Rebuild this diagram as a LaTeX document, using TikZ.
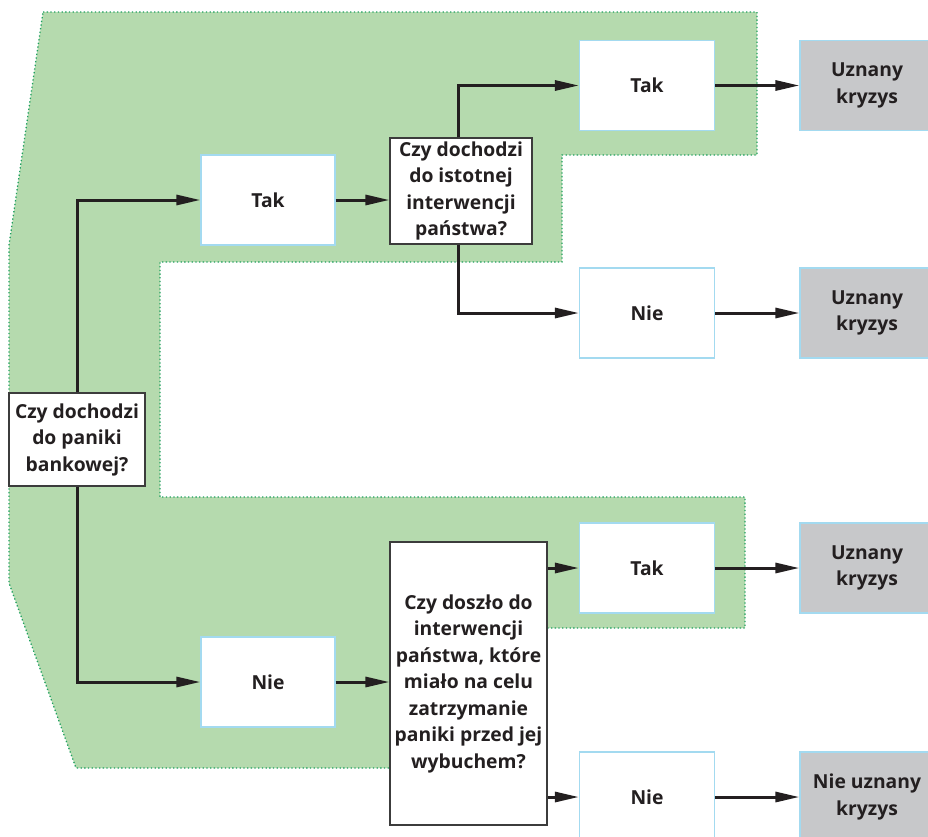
\documentclass[tikz,border=0pt]{standalone}
\usepackage{fontspec}
\setmainfont{Open Sans}
\usetikzlibrary{arrows.meta}
\definecolor{zone}{HTML}{B5DAAE}
\definecolor{zoneedge}{HTML}{1FA060}
\definecolor{lightedge}{HTML}{A3DAF0}
\definecolor{qedge}{HTML}{3C3C3C}
\definecolor{result}{HTML}{C7C8CA}
\definecolor{ink}{HTML}{231F20}
\tikzset{
  box/.style={draw=lightedge, line width=1.2pt, fill=white, minimum width=135pt,
    minimum height=90pt, align=center, inner sep=2pt, text=ink,
    font=\fontsize{19.3}{26.5}\selectfont\bfseries},
  question/.style={box, draw=qedge, line width=1.1pt},
  outcome/.style={box, fill=result, minimum width=134pt},
  flow/.style={draw=ink, line width=3pt, -{Triangle[length=24pt,width=10pt]}},
}
\begin{document}
\begin{tikzpicture}[x=1pt,y=-1pt]
\useasboundingbox (0,0) rectangle (928,836);
\clip (0,0) rectangle (928,836);
% shaded zone
\filldraw[fill=zone, draw=zoneedge, line width=1.3pt, dash pattern=on 1.3pt off 2.4pt]
  (43,12) -- (757,12) -- (757,155) -- (562,155) -- (562,262) -- (160,262)
  -- (160,497) -- (745,497) -- (745,628) -- (520,628) -- (520,768)
  -- (76,768) -- (9,583) -- (9,245) -- cycle;
% first question
\node[question, minimum width=136pt, minimum height=93pt] (q1) at (77,439.5)
  {Czy dochodzi\\do paniki\\bankowej?};
\node[box, minimum width=134pt] (tak1) at (268,200) {Tak};
\node[box, minimum width=134pt] (nie1) at (268,682) {Nie};
% upper branch
\node[question, minimum width=142pt, minimum height=106pt] (q2) at (461,191)
  {Czy dochodzi\\do istotnej\\interwencji\\państwa?};
\node[box] (tak2) at (647,85.5) {Tak};
\node[box] (nie2) at (647,313) {Nie};
% lower branch
\node[question, minimum width=157pt, minimum height=283pt] (q3) at (468.5,683.5)
  {Czy doszło do\\interwencji\\państwa, które\\miało na celu\\zatrzymanie\\paniki przed jej\\wybuchem?};
\node[box] (tak3) at (647,568) {Tak};
\node[box] (nie3) at (647,797) {Nie};
% outcomes
\node[outcome] (r1) at (867,85.5) {Uznany\\kryzys};
\node[outcome] (r2) at (867,313) {Uznany\\kryzys};
\node[outcome] (r3) at (867,568) {Uznany\\kryzys};
\node[outcome] (r4) at (867,797) {Nie uznany\\kryzys};
% connectors
\draw[flow] (q1.north) |- (tak1.west);
\draw[flow] (q1.south) |- (nie1.west);
\draw[flow] (tak1.east) -- (q2.west |- tak1.east);
\draw[flow] (nie1.east) -- (q3.west |- nie1.east);
\draw[flow] ([xshift=-3pt]q2.north) |- (tak2.west);
\draw[flow] ([xshift=-3pt]q2.south) |- (nie2.west);
\draw[flow] (q3.east |- tak3.west) -- (tak3.west);
\draw[flow] (q3.east |- nie3.west) -- (nie3.west);
\draw[flow] (tak2.east) -- (r1.west);
\draw[flow] (nie2.east) -- (r2.west);
\draw[flow] (tak3.east) -- (r3.west);
\draw[flow] (nie3.east) -- (r4.west);
\end{tikzpicture}
\end{document}
